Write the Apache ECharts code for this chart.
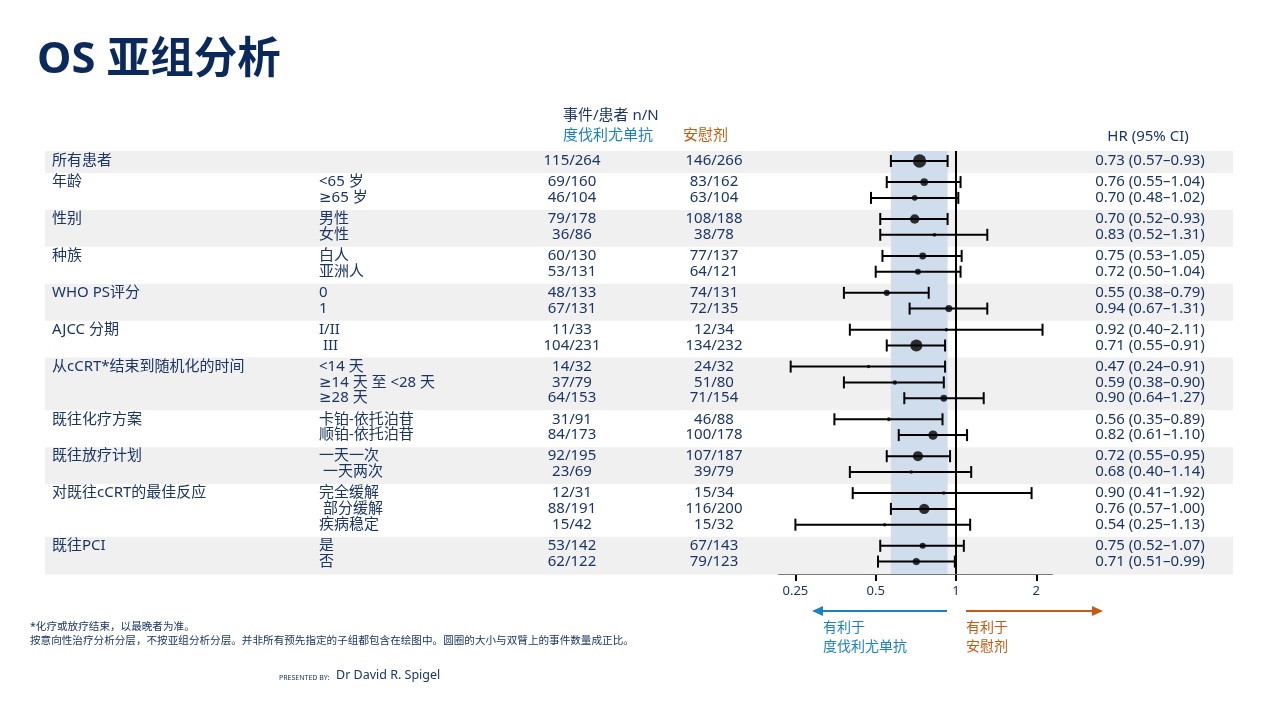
<!DOCTYPE html>
<html>
<head>
<meta charset="utf-8">
<script src="https://cdn.jsdelivr.net/npm/echarts@6/dist/echarts.min.js"></script>
<style>html,body{margin:0;padding:0;background:#fff;}#c{width:1280px;height:720px;}</style>
</head>
<body>
<div id="c"></div>
<script>
// ---------------- DATA ----------------
const groupLabels = ['所有患者','年龄','性别','种族','WHO PS评分','AJCC 分期','从cCRT*结束到随机化的时间','既往化疗方案','既往放疗计划','对既往cCRT的最佳反应','既往PCI'];
const subgroupLabels = ['', '<65 岁', '≥65 岁', '男性', '女性', '白人', '亚洲人', '0', '1', 'I/II', ' III', '<14 天', '≥14 天 至 <28 天', '≥28 天', '卡铂-依托泊苷', '顺铂-依托泊苷', '一天一次', ' 一天两次', '完全缓解', ' 部分缓解', '疾病稳定', '是', '否'];
const groupOfRow = [0,1,1,2,2,3,3,4,4,5,5,6,6,6,7,7,8,8,9,9,9,10,10];
const durvaEvents   = [115,69,46,79,36,60,53,48,67,11,104,14,37,64,31,84,92,23,12,88,15,53,62];
const durvaN        = [264,160,104,178,86,130,131,133,131,33,231,32,79,153,91,173,195,69,31,191,42,142,122];
const placeboEvents = [146,83,63,108,38,77,64,74,72,12,134,24,51,71,46,100,107,39,15,116,15,67,79];
const placeboN      = [266,162,104,188,78,137,121,131,135,34,232,32,80,154,88,178,187,79,34,200,32,143,123];
const hr     = [0.73,0.76,0.70,0.70,0.83,0.75,0.72,0.55,0.94,0.92,0.71,0.47,0.59,0.90,0.56,0.82,0.72,0.68,0.90,0.76,0.54,0.75,0.71];
const ciLow  = [0.57,0.55,0.48,0.52,0.52,0.53,0.50,0.38,0.67,0.40,0.55,0.24,0.38,0.64,0.35,0.61,0.55,0.40,0.41,0.57,0.25,0.52,0.51];
const ciHigh = [0.93,1.04,1.02,0.93,1.31,1.05,1.04,0.79,1.31,2.11,0.91,0.91,0.90,1.27,0.89,1.10,0.95,1.14,1.92,1.00,1.13,1.07,0.99];
const axisTicks = [0.25, 0.5, 1, 2];

// ---------------- STYLE / LAYOUT ----------------
const NAVY = '#1b3564', BLUE = '#1a82c0', ORANGE = '#c55a11', TITLE = '#0b2a5b';
const FONT = '"Noto Sans", "DejaVu Sans", "Noto Sans CJK SC", sans-serif';
const GRID_TOP = 151, GRID_H = 423;
const ROW_STEP = 15.8, GROUP_GAP = 5.3, FIRST_ROW = 10;
const TABLE_W = 1188;

const rowY = subgroupLabels.map((_, i) => FIRST_ROW + i * ROW_STEP + groupOfRow[i] * GROUP_GAP);
const nGroups = groupLabels.length;
const gFirst = [], gLast = [];
groupOfRow.forEach((g, i) => { if (gFirst[g] === undefined) gFirst[g] = i; gLast[g] = i; });
const stripes = [];
for (let g = 0; g < nGroups; g += 2) {
  const top = g === 0 ? rowY[gFirst[g]] - 10 : (rowY[gLast[g-1]] + rowY[gFirst[g]]) / 2 + 1.5;
  const bot = g === nGroups - 1 ? rowY[gLast[g]] + 13 : (rowY[gLast[g]] + rowY[gFirst[g+1]]) / 2 + 1.5;
  stripes.push([top, bot]);
}

// table texts: [x (px from table left), y, text, align, color]
const texts = [];
groupLabels.forEach((t, g) => texts.push([7, rowY[gFirst[g]], t, 'left', NAVY]));
subgroupLabels.forEach((t, i) => {
  if (t) texts.push([274, rowY[i], t, 'left', NAVY]);
  texts.push([527, rowY[i], durvaEvents[i] + '/' + durvaN[i], 'center', NAVY]);
  texts.push([669, rowY[i], placeboEvents[i] + '/' + placeboN[i], 'center', NAVY]);
  texts.push([1105, rowY[i], hr[i].toFixed(2) + ' (' + ciLow[i].toFixed(2) + '–' + ciHigh[i].toFixed(2) + ')', 'center', NAVY]);
});
texts.push([518, -35, '事件/患者 n/N', 'left', NAVY]);
texts.push([518, -15, '度伐利尤单抗', 'left', BLUE]);
texts.push([638, -15, '安慰剂', 'left', ORANGE]);
texts.push([1103, -14, 'HR (95% CI)', 'center', NAVY]);

const chart = echarts.init(document.getElementById('c'), null, { renderer: 'canvas' });
chart.setOption({
  animation: false,
  backgroundColor: '#fff',
  title: {
    text: 'OS 亚组分析', left: 32, top: 34,
    textStyle: { fontFamily: FONT, fontSize: 43.5, fontWeight: 'bold', color: TITLE }
  },
  grid: [
    { left: 779, width: 273, top: GRID_TOP, height: GRID_H },
    { left: 45, width: TABLE_W, top: GRID_TOP, height: GRID_H }
  ],
  xAxis: [
    {
      gridIndex: 0, type: 'log', logBase: 2, min: 0.217, max: 2.29,
      axisLine: { onZero: false, lineStyle: { color: '#000', width: 2 } },
      axisTick: { show: true, length: 7, lineStyle: { color: '#000', width: 2 }, customValues: axisTicks },
      axisLabel: { customValues: axisTicks, margin: 11, fontSize: 13, fontFamily: FONT, color: NAVY,
        formatter: v => String(+v.toFixed(2)) },
      splitLine: { show: false }, minorTick: { show: false }
    },
    { gridIndex: 1, type: 'value', min: 0, max: TABLE_W, show: false }
  ],
  yAxis: [
    { gridIndex: 0, type: 'value', min: 0, max: GRID_H, inverse: true, show: false },
    { gridIndex: 1, type: 'value', min: 0, max: GRID_H, inverse: true, show: false }
  ],
  series: [
    { // alternating group stripes
      type: 'custom', xAxisIndex: 1, yAxisIndex: 1, z: 1, clip: false, silent: true,
      data: stripes,
      renderItem: (params, api) => {
        const p1 = api.coord([0, api.value(0)]);
        const p2 = api.coord([TABLE_W, api.value(1)]);
        return { type: 'rect', shape: { x: p1[0], y: p1[1], width: p2[0] - p1[0], height: p2[1] - p1[1] },
          style: { fill: '#f0f0f0' } };
      }
    },
    { // overall CI band
      type: 'custom', xAxisIndex: 0, yAxisIndex: 0, z: 2, clip: false, silent: true,
      data: [[ciLow[0], ciHigh[0]]],
      renderItem: (params, api) => {
        const p1 = api.coord([api.value(0), 0]);
        const p2 = api.coord([api.value(1), GRID_H]);
        return { type: 'rect', shape: { x: p1[0], y: p1[1], width: p2[0] - p1[0], height: p2[1] - p1[1] },
          style: { fill: '#cfdded' } };
      }
    },
    { // reference line at HR = 1
      type: 'custom', xAxisIndex: 0, yAxisIndex: 0, z: 3, clip: false, silent: true,
      data: [[1]],
      renderItem: (params, api) => {
        const p1 = api.coord([api.value(0), 0]);
        const p2 = api.coord([api.value(0), GRID_H]);
        return { type: 'line', shape: { x1: p1[0], y1: p1[1], x2: p2[0], y2: p2[1] },
          style: { stroke: '#000', lineWidth: 2 } };
      }
    },
    { // CI whiskers
      type: 'custom', xAxisIndex: 0, yAxisIndex: 0, z: 4, clip: false, silent: true,
      data: hr.map((h, i) => [ciLow[i], ciHigh[i], rowY[i]]),
      renderItem: (params, api) => {
        const a = api.coord([api.value(0), api.value(2)]);
        const b = api.coord([api.value(1), api.value(2)]);
        const st = { stroke: '#000', lineWidth: 2 };
        return { type: 'group', children: [
          { type: 'line', shape: { x1: a[0], y1: a[1], x2: b[0], y2: b[1] }, style: st },
          { type: 'line', shape: { x1: a[0], y1: a[1] - 6, x2: a[0], y2: a[1] + 6 }, style: st },
          { type: 'line', shape: { x1: b[0], y1: b[1] - 6, x2: b[0], y2: b[1] + 6 }, style: st }
        ]};
      }
    },
    { // point estimates, size proportional to total events
      type: 'scatter', xAxisIndex: 0, yAxisIndex: 0, z: 5, silent: true,
      data: hr.map((h, i) => [h, rowY[i], durvaEvents[i] + placeboEvents[i]]),
      symbol: 'circle',
      symbolSize: v => Math.max(3.5, v[2] * 0.051),
      itemStyle: { color: '#000' }
    },
    { // table texts
      type: 'custom', xAxisIndex: 1, yAxisIndex: 1, z: 6, clip: false, silent: true,
      data: texts.map(t => [t[0], t[1]]),
      renderItem: (params, api) => {
        const t = texts[params.dataIndex];
        const p = api.coord([t[0], t[1]]);
        return { type: 'text', x: p[0], y: p[1],
          style: { text: t[2], textAlign: t[3], textVerticalAlign: 'middle', fill: t[4], font: '15px ' + FONT } };
      }
    }
  ],
  graphic: [
    // direction arrows
    { type: 'line', shape: { x1: 947, y1: 611, x2: 821, y2: 611 }, style: { stroke: BLUE, lineWidth: 2 } },
    { type: 'polygon', shape: { points: [[812, 611], [823, 606], [823, 616]] }, style: { fill: BLUE } },
    { type: 'line', shape: { x1: 966, y1: 611, x2: 1094, y2: 611 }, style: { stroke: ORANGE, lineWidth: 2 } },
    { type: 'polygon', shape: { points: [[1103, 611], [1092, 606], [1092, 616]] }, style: { fill: ORANGE } },
    { type: 'text', left: 823, top: 621, style: { text: '有利于', fill: BLUE, font: '14px ' + FONT } },
    { type: 'text', left: 823, top: 640, style: { text: '度伐利尤单抗', fill: BLUE, font: '14px ' + FONT } },
    { type: 'text', left: 966, top: 621, style: { text: '有利于', fill: ORANGE, font: '14px ' + FONT } },
    { type: 'text', left: 966, top: 640, style: { text: '安慰剂', fill: ORANGE, font: '14px ' + FONT } },
    // footnotes
    { type: 'text', left: 30, top: 622, style: { text: '*化疗或放疗结束，以最晚者为准。', fill: NAVY, font: '10.6px ' + FONT } },
    { type: 'text', left: 30, top: 636, style: { text: '按意向性治疗分析分层，不按亚组分析分层。并非所有预先指定的子组都包含在绘图中。圆圈的大小与双臂上的事件数量成正比。', fill: NAVY, font: '10.6px ' + FONT } },
    { type: 'text', left: 279, top: 674, style: { text: 'PRESENTED BY:', fill: NAVY, font: '7px ' + FONT } },
    { type: 'text', left: 336, top: 669, style: { text: 'Dr David R. Spigel', fill: NAVY, font: '12.5px ' + FONT } }
  ]
});
</script>
</body>
</html>
